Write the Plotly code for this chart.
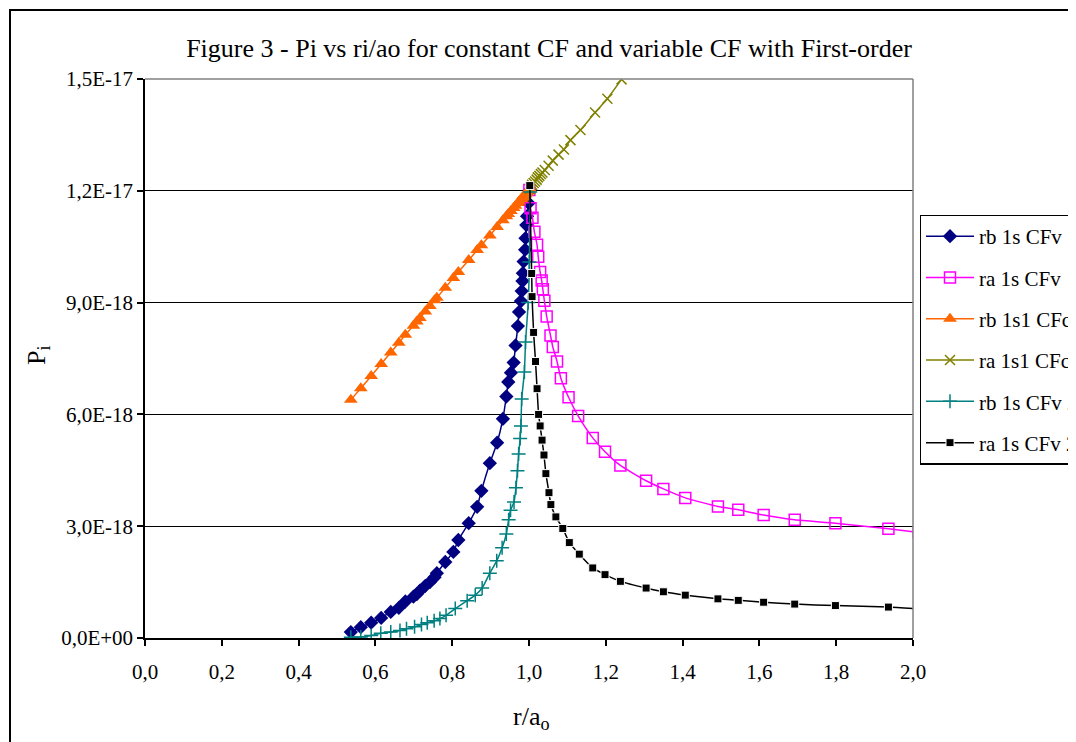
import plotly.graph_objects as go

# ---- data (Pi in units of 1e-18) ----
rb_x = [0.536, 0.562, 0.589, 0.615, 0.640, 0.661, 0.678, 0.699, 0.708, 0.716, 0.730, 0.742, 0.754, 0.760,
        0.782, 0.803, 0.816, 0.843, 0.865, 0.876, 0.898, 0.917, 0.932, 0.941, 0.946, 0.953, 0.960, 0.965,
        0.971, 0.974, 0.979, 0.981, 0.983, 0.984, 0.986, 0.990, 0.991, 0.993, 0.995, 0.999, 1.003]
rb_1s_cfv = [0.16, 0.29, 0.41, 0.54, 0.70, 0.81, 0.98, 1.11, 1.18, 1.27, 1.40, 1.50, 1.63, 1.74,
             2.04, 2.31, 2.63, 3.08, 3.52, 3.95, 4.69, 5.24, 5.88, 6.48, 6.87, 7.12, 7.39, 7.85,
             8.37, 8.75, 9.04, 9.31, 9.58, 9.79, 10.10, 10.42, 10.73, 11.08, 11.32, 11.67, 12.02]
rb_1s1_cfc = [6.39, 6.70, 7.03, 7.35, 7.66, 7.92, 8.14, 8.38, 8.49, 8.59, 8.76, 8.91, 9.06, 9.13,
              9.40, 9.66, 9.82, 10.14, 10.41, 10.54, 10.80, 11.03, 11.21, 11.32, 11.38, 11.46, 11.54, 11.60,
              11.67, 11.71, 11.77, 11.79, 11.82, 11.83, 11.85, 11.90, 11.91, 11.94, 11.96, 12.00, 12.05]

ra_x = [1.001, 1.004, 1.009, 1.014, 1.021, 1.024, 1.029, 1.033, 1.036, 1.040, 1.046, 1.056, 1.062, 1.073,
        1.083, 1.103, 1.128, 1.166, 1.198, 1.238, 1.305, 1.350, 1.407, 1.492, 1.545, 1.611, 1.692, 1.798,
        1.936, 2.015]
ra_1s_cfv = [12.02, 11.53, 11.28, 10.90, 10.55, 10.23, 9.82, 9.59, 9.36, 9.05, 8.63, 8.12, 7.81, 7.42,
             6.97, 6.46, 5.96, 5.37, 5.00, 4.63, 4.22, 4.00, 3.76, 3.53, 3.44, 3.30, 3.17, 3.08,
             2.93, 2.83]

ra_cfc_x = [1.003, 1.008, 1.012, 1.016, 1.020, 1.023, 1.027, 1.031, 1.035, 1.041, 1.051, 1.062, 1.077,
            1.091, 1.108, 1.134, 1.172, 1.204, 1.241]
ra_1s1_cfc = [12.05, 12.16, 12.21, 12.25, 12.30, 12.36, 12.40, 12.45, 12.49, 12.56, 12.67, 12.81, 12.97,
              13.11, 13.36, 13.63, 14.10, 14.47, 14.99]

rb2_x = [0.536, 0.562, 0.589, 0.614, 0.640, 0.664, 0.681, 0.702, 0.720, 0.735, 0.753, 0.768, 0.784, 0.808,
         0.839, 0.860, 0.878, 0.898, 0.916, 0.930, 0.941, 0.947, 0.952, 0.961, 0.966, 0.970, 0.973, 0.977,
         0.979, 0.981, 0.988, 0.991, 0.998, 1.001, 1.003]
rb_1s_cfv2 = [0.02, 0.03, 0.07, 0.13, 0.16, 0.20, 0.25, 0.30, 0.36, 0.41, 0.46, 0.52, 0.61, 0.79,
              1.00, 1.15, 1.34, 1.74, 2.07, 2.42, 2.79, 3.17, 3.43, 3.65, 4.03, 4.49, 4.94, 5.35,
              5.69, 6.41, 7.14, 7.94, 9.00, 10.09, 11.97]

ra2_x = [1.002, 1.007, 1.008, 1.012, 1.017, 1.021, 1.025, 1.029, 1.034, 1.039, 1.044, 1.052, 1.057, 1.070,
         1.088, 1.105, 1.131, 1.166, 1.198, 1.238, 1.305, 1.350, 1.407, 1.492, 1.545, 1.611, 1.692, 1.798,
         1.936, 2.015]
ra_1s_cfv2 = [12.14, 9.78, 9.16, 8.20, 7.42, 6.69, 6.00, 5.69, 5.31, 4.91, 4.41, 3.90, 3.58, 3.25,
              2.94, 2.56, 2.25, 1.88, 1.70, 1.52, 1.34, 1.24, 1.15, 1.05, 1.01, 0.96, 0.91, 0.87,
              0.83, 0.78]

x_tickvals = [0.0, 0.2, 0.4, 0.6, 0.8, 1.0, 1.2, 1.4, 1.6, 1.8, 2.0]
x_ticktext = ["0,0", "0,2", "0,4", "0,6", "0,8", "1,0", "1,2", "1,4", "1,6", "1,8", "2,0"]
y_tickvals = [0, 3e-18, 6e-18, 9e-18, 1.2e-17, 1.5e-17]
y_ticktext = ["0,0E+00", "3,0E-18", "6,0E-18", "9,0E-18", "1,2E-17", "1,5E-17"]

UNIT = 1e-18
FONT = "Liberation Serif"

def sc(v):
    return [a * UNIT for a in v]

series = [
    ("rb 1s CFv", rb_x, rb_1s_cfv, "#000080", dict(symbol="diamond", size=11, color="#000080")),
    ("ra 1s CFv", ra_x, ra_1s_cfv, "#FF00FF", dict(symbol="square-open", size=11, color="#FF00FF", line=dict(width=1.5, color="#FF00FF"))),
    ("rb 1s1 CFc", rb_x, rb_1s1_cfc, "#FF6600", dict(symbol="triangle-up", size=12, color="#FF6600")),
    ("ra 1s1 CFc", ra_cfc_x, ra_1s1_cfc, "#808000", dict(symbol="x-thin", size=10, color="#808000", line=dict(width=1.5, color="#808000"))),
    ("rb 1s CFv 2", rb2_x, rb_1s_cfv2, "#008080", dict(symbol="cross-thin", size=10, color="#008080", line=dict(width=1.5, color="#008080"))),
    ("ra 1s CFv 2", ra2_x, ra_1s_cfv2, "#000000", dict(symbol="square", size=8, color="#000000", line=dict(width=1, color="white"))),
]

fig = go.Figure()
for i, (name, xs, ys, col, mk) in enumerate(series):
    fig.add_trace(go.Scatter(
        x=xs, y=sc(ys), name=name, mode="lines+markers",
        line=dict(color=col, width=1.5, shape="spline", smoothing=0.5),
        marker=mk, legendgroup=f"g{i}", cliponaxis=True,
    ))

# page body has an 8px margin; plot area must land at x 145..913, y 79..638
fig.update_layout(
    width=1076, height=742,
    margin=dict(l=137, r=171, t=71, b=112, autoexpand=False),
    paper_bgcolor="white", plot_bgcolor="white",
    font=dict(family=FONT, size=21, color="black"),
    title=dict(text="Figure 3 - Pi vs ri/ao for constant CF and variable CF with First-order",
               x=(549 - 145) / 768, xref="paper", xanchor="center", y=1 - 40 / 742, yref="container",
               yanchor="middle", font=dict(family=FONT, size=26, color="black")),
    showlegend=True,
    legend=dict(x=(919.5 - 145) / 768, y=(638 - 214.5) / 559, xanchor="left", yanchor="top",
                bgcolor="white", bordercolor="black", borderwidth=1.5,
                font=dict(family=FONT, size=21, color="black"), tracegroupgap=11,
                itemwidth=48),
    xaxis=dict(range=[0, 2.0], tickvals=x_tickvals, ticktext=x_ticktext, showgrid=False, zeroline=False,
               showline=True, linecolor="black", linewidth=1.5, ticks="outside", ticklen=6,
               tickcolor="black", tickwidth=1.5, ticklabelstandoff=8,
               tickfont=dict(family=FONT, size=21, color="black")),
    yaxis=dict(range=[0, 1.5e-17], tickvals=y_tickvals, ticktext=y_ticktext, showgrid=True,
               gridcolor="black", gridwidth=1, zeroline=False,
               showline=True, linecolor="black", linewidth=1.5, ticks="outside", ticklen=6,
               tickcolor="black", tickwidth=1.5,
               tickfont=dict(family=FONT, size=21, color="black")),
)

# plot-area border (top/right in grey), outer chart frame
fig.add_shape(type="line", xref="paper", yref="paper", x0=0, x1=1, y0=1, y1=1,
              line=dict(color="#808080", width=1.5), layer="above")
fig.add_shape(type="line", xref="paper", yref="paper", x0=1, x1=1, y0=0, y1=1,
              line=dict(color="#808080", width=1.5), layer="above")
fig.add_shape(type="rect", xref="paper", yref="paper",
              x0=(10 - 145) / 768, x1=1.6, y0=-0.4, y1=(638 - 10) / 559,
              line=dict(color="black", width=2), layer="below")

fig.add_annotation(text="P<sub>i</sub>", xref="paper", yref="paper",
                   x=(38 - 145) / 768, y=(638 - 355) / 559, textangle=-90, showarrow=False,
                   xanchor="center", yanchor="middle",
                   font=dict(family=FONT, size=26, color="black"))
fig.add_annotation(text="r/a<sub>o</sub>", xref="paper", yref="paper",
                   x=(531 - 145) / 768, y=(638 - 718) / 559, showarrow=False,
                   xanchor="center", yanchor="middle",
                   font=dict(family=FONT, size=26, color="black"))

fig.write_html("out.html")
